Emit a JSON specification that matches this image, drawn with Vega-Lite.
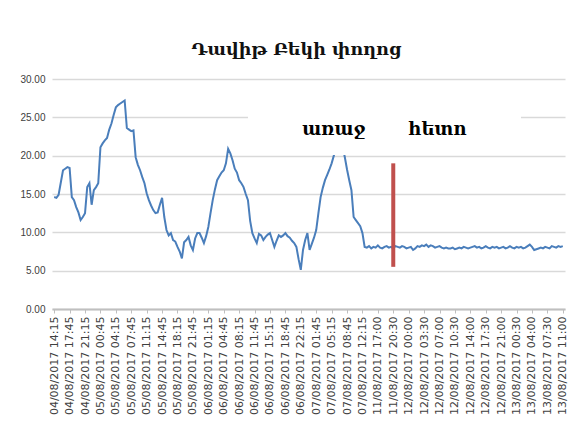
{
  "$schema": "https://vega.github.io/schema/vega-lite/v6.json",
  "width": 513,
  "height": 230,
  "autosize": {"type": "none"},
  "padding": {"left": 52, "top": 79, "right": 6, "bottom": 129},
  "background": "white",
  "config": {"view": {"stroke": null}},
  "title": {"text": "Դավիթ Բեկի փողոց", "font": "DejaVu Serif", "fontSize": 17.5, "fontWeight": 600, "color": "#111111", "baseline": "alphabetic", "offset": 2, "anchor": "middle", "dx": -12},
  "datasets": {
    "series": [
      {"t":"04/08/2017 14:15","v":14.6},{"t":"04/08/2017 14:45","v":14.5},{"t":"04/08/2017 15:15","v":14.9},{"t":"04/08/2017 15:45","v":16.5},{"t":"04/08/2017 16:15","v":18.1},{"t":"04/08/2017 16:45","v":18.3},{"t":"04/08/2017 17:15","v":18.5},{"t":"04/08/2017 17:45","v":18.4},{"t":"04/08/2017 18:15","v":14.6},{"t":"04/08/2017 18:45","v":14.2},{"t":"04/08/2017 19:15","v":13.3},{"t":"04/08/2017 19:45","v":12.6},{"t":"04/08/2017 20:15","v":11.6},{"t":"04/08/2017 20:45","v":12.0},{"t":"04/08/2017 21:15","v":12.5},{"t":"04/08/2017 21:45","v":15.9},{"t":"04/08/2017 22:15","v":16.4},{"t":"04/08/2017 22:45","v":13.6},{"t":"04/08/2017 23:15","v":15.5},{"t":"04/08/2017 23:45","v":15.9},
      {"t":"05/08/2017 00:15","v":16.4},{"t":"05/08/2017 00:45","v":21.1},{"t":"05/08/2017 01:15","v":21.6},{"t":"05/08/2017 01:45","v":22.0},{"t":"05/08/2017 02:15","v":22.3},{"t":"05/08/2017 02:45","v":23.4},{"t":"05/08/2017 03:15","v":24.2},{"t":"05/08/2017 03:45","v":25.3},{"t":"05/08/2017 04:15","v":26.3},{"t":"05/08/2017 04:45","v":26.6},{"t":"05/08/2017 05:15","v":26.8},{"t":"05/08/2017 05:45","v":27.0},{"t":"05/08/2017 06:15","v":27.2},{"t":"05/08/2017 06:45","v":23.6},{"t":"05/08/2017 07:15","v":23.4},{"t":"05/08/2017 07:45","v":23.2},{"t":"05/08/2017 08:15","v":23.3},{"t":"05/08/2017 08:45","v":19.8},{"t":"05/08/2017 09:15","v":18.8},{"t":"05/08/2017 09:45","v":18.1},{"t":"05/08/2017 10:15","v":17.2},{"t":"05/08/2017 10:45","v":16.4},{"t":"05/08/2017 11:15","v":15.1},{"t":"05/08/2017 11:45","v":14.2},{"t":"05/08/2017 12:15","v":13.5},{"t":"05/08/2017 12:45","v":12.9},{"t":"05/08/2017 13:15","v":12.5},{"t":"05/08/2017 13:45","v":12.6},{"t":"05/08/2017 14:15","v":13.6},{"t":"05/08/2017 14:45","v":14.5},{"t":"05/08/2017 15:15","v":12.0},{"t":"05/08/2017 15:45","v":10.3},{"t":"05/08/2017 16:15","v":9.6},{"t":"05/08/2017 16:45","v":9.9},{"t":"05/08/2017 17:15","v":9.0},{"t":"05/08/2017 17:45","v":8.8},{"t":"05/08/2017 18:15","v":8.1},{"t":"05/08/2017 18:45","v":7.5},{"t":"05/08/2017 19:15","v":6.6},{"t":"05/08/2017 19:45","v":8.7},{"t":"05/08/2017 20:15","v":9.0},{"t":"05/08/2017 20:45","v":9.4},{"t":"05/08/2017 21:15","v":8.3},{"t":"05/08/2017 21:45","v":7.7},{"t":"05/08/2017 22:15","v":9.2},{"t":"05/08/2017 22:45","v":9.9},{"t":"05/08/2017 23:15","v":9.9},{"t":"05/08/2017 23:45","v":9.3},
      {"t":"06/08/2017 00:15","v":8.6},{"t":"06/08/2017 00:45","v":9.5},{"t":"06/08/2017 01:15","v":10.7},{"t":"06/08/2017 01:45","v":12.5},{"t":"06/08/2017 02:15","v":14.2},{"t":"06/08/2017 02:45","v":15.6},{"t":"06/08/2017 03:15","v":16.8},{"t":"06/08/2017 03:45","v":17.3},{"t":"06/08/2017 04:15","v":17.8},{"t":"06/08/2017 04:45","v":18.1},{"t":"06/08/2017 05:15","v":19.0},{"t":"06/08/2017 05:45","v":20.9},{"t":"06/08/2017 06:15","v":20.3},{"t":"06/08/2017 06:45","v":19.4},{"t":"06/08/2017 07:15","v":18.3},{"t":"06/08/2017 07:45","v":17.8},{"t":"06/08/2017 08:15","v":16.8},{"t":"06/08/2017 08:45","v":16.4},{"t":"06/08/2017 09:15","v":15.9},{"t":"06/08/2017 09:45","v":15.0},{"t":"06/08/2017 10:15","v":14.2},{"t":"06/08/2017 10:45","v":11.5},{"t":"06/08/2017 11:15","v":9.9},{"t":"06/08/2017 11:45","v":9.2},{"t":"06/08/2017 12:15","v":8.6},{"t":"06/08/2017 12:45","v":9.8},{"t":"06/08/2017 13:15","v":9.6},{"t":"06/08/2017 13:45","v":9.0},{"t":"06/08/2017 14:15","v":9.4},{"t":"06/08/2017 14:45","v":9.7},{"t":"06/08/2017 15:15","v":9.9},{"t":"06/08/2017 15:45","v":9.0},{"t":"06/08/2017 16:15","v":8.1},{"t":"06/08/2017 16:45","v":8.9},{"t":"06/08/2017 17:15","v":9.6},{"t":"06/08/2017 17:45","v":9.4},{"t":"06/08/2017 18:15","v":9.6},{"t":"06/08/2017 18:45","v":9.9},{"t":"06/08/2017 19:15","v":9.5},{"t":"06/08/2017 19:45","v":9.3},{"t":"06/08/2017 20:15","v":8.9},{"t":"06/08/2017 20:45","v":8.6},{"t":"06/08/2017 21:15","v":8.1},{"t":"06/08/2017 21:45","v":6.5},{"t":"06/08/2017 22:15","v":5.1},{"t":"06/08/2017 22:45","v":7.7},{"t":"06/08/2017 23:15","v":9.0},{"t":"06/08/2017 23:45","v":9.9},
      {"t":"07/08/2017 00:15","v":7.7},{"t":"07/08/2017 00:45","v":8.5},{"t":"07/08/2017 01:15","v":9.3},{"t":"07/08/2017 01:45","v":10.3},{"t":"07/08/2017 02:15","v":12.5},{"t":"07/08/2017 02:45","v":14.6},{"t":"07/08/2017 03:15","v":15.8},{"t":"07/08/2017 03:45","v":16.8},{"t":"07/08/2017 04:15","v":17.5},{"t":"07/08/2017 04:45","v":18.2},{"t":"07/08/2017 05:15","v":19.0},{"t":"07/08/2017 05:45","v":20.0},{"t":"07/08/2017 06:15","v":20.7},{"t":"07/08/2017 06:45","v":21.5},{"t":"07/08/2017 07:15","v":22.0},{"t":"07/08/2017 07:45","v":21.2},{"t":"07/08/2017 08:15","v":19.8},{"t":"07/08/2017 08:45","v":18.2},{"t":"07/08/2017 09:15","v":16.8},{"t":"07/08/2017 09:45","v":15.5},{"t":"07/08/2017 10:15","v":12.0},{"t":"07/08/2017 10:45","v":11.6},{"t":"07/08/2017 11:15","v":11.2},{"t":"07/08/2017 11:45","v":10.8},{"t":"07/08/2017 12:15","v":9.9},
      {"t":"11/08/2017 14:00","v":8.1},{"t":"11/08/2017 14:30","v":8.0},{"t":"11/08/2017 15:00","v":8.2},{"t":"11/08/2017 15:30","v":7.9},{"t":"11/08/2017 16:00","v":8.1},{"t":"11/08/2017 16:30","v":8.0},{"t":"11/08/2017 17:00","v":8.3},{"t":"11/08/2017 17:30","v":8.0},{"t":"11/08/2017 18:00","v":7.9},{"t":"11/08/2017 18:30","v":8.1},{"t":"11/08/2017 19:00","v":8.2},{"t":"11/08/2017 19:30","v":8.0},{"t":"11/08/2017 20:00","v":8.1},{"t":"11/08/2017 20:30","v":7.9},{"t":"11/08/2017 21:00","v":8.2},{"t":"11/08/2017 21:30","v":8.1},{"t":"11/08/2017 22:00","v":8.0},{"t":"11/08/2017 22:30","v":8.2},{"t":"11/08/2017 23:00","v":8.1},{"t":"11/08/2017 23:30","v":7.9},
      {"t":"12/08/2017 00:00","v":8.0},{"t":"12/08/2017 00:30","v":8.1},{"t":"12/08/2017 01:00","v":7.7},{"t":"12/08/2017 01:30","v":7.9},{"t":"12/08/2017 02:00","v":8.2},{"t":"12/08/2017 02:30","v":8.1},{"t":"12/08/2017 03:00","v":8.3},{"t":"12/08/2017 03:30","v":8.2},{"t":"12/08/2017 04:00","v":8.4},{"t":"12/08/2017 04:30","v":8.1},{"t":"12/08/2017 05:00","v":8.3},{"t":"12/08/2017 05:30","v":8.2},{"t":"12/08/2017 06:00","v":8.0},{"t":"12/08/2017 06:30","v":8.1},{"t":"12/08/2017 07:00","v":8.2},{"t":"12/08/2017 07:30","v":8.0},{"t":"12/08/2017 08:00","v":7.9},{"t":"12/08/2017 08:30","v":8.0},{"t":"12/08/2017 09:00","v":7.9},{"t":"12/08/2017 09:30","v":7.9},{"t":"12/08/2017 10:00","v":8.0},{"t":"12/08/2017 10:30","v":7.8},{"t":"12/08/2017 11:00","v":7.9},{"t":"12/08/2017 11:30","v":8.0},{"t":"12/08/2017 12:00","v":7.9},{"t":"12/08/2017 12:30","v":8.1},{"t":"12/08/2017 13:00","v":8.0},{"t":"12/08/2017 13:30","v":7.9},{"t":"12/08/2017 14:00","v":8.0},{"t":"12/08/2017 14:30","v":8.1},{"t":"12/08/2017 15:00","v":8.2},{"t":"12/08/2017 15:30","v":8.0},{"t":"12/08/2017 16:00","v":8.1},{"t":"12/08/2017 16:30","v":7.9},{"t":"12/08/2017 17:00","v":8.0},{"t":"12/08/2017 17:30","v":8.2},{"t":"12/08/2017 18:00","v":8.0},{"t":"12/08/2017 18:30","v":7.9},{"t":"12/08/2017 19:00","v":8.1},{"t":"12/08/2017 19:30","v":8.0},{"t":"12/08/2017 20:00","v":8.1},{"t":"12/08/2017 20:30","v":7.9},{"t":"12/08/2017 21:00","v":8.0},{"t":"12/08/2017 21:30","v":8.1},{"t":"12/08/2017 22:00","v":7.9},{"t":"12/08/2017 22:30","v":8.0},{"t":"12/08/2017 23:00","v":8.2},{"t":"12/08/2017 23:30","v":8.0},
      {"t":"13/08/2017 00:00","v":7.9},{"t":"13/08/2017 00:30","v":8.1},{"t":"13/08/2017 01:00","v":8.0},{"t":"13/08/2017 01:30","v":8.1},{"t":"13/08/2017 02:00","v":7.9},{"t":"13/08/2017 02:30","v":8.0},{"t":"13/08/2017 03:00","v":8.2},{"t":"13/08/2017 03:30","v":8.4},{"t":"13/08/2017 04:00","v":8.1},{"t":"13/08/2017 04:30","v":7.7},{"t":"13/08/2017 05:00","v":7.8},{"t":"13/08/2017 05:30","v":7.9},{"t":"13/08/2017 06:00","v":8.0},{"t":"13/08/2017 06:30","v":7.9},{"t":"13/08/2017 07:00","v":8.1},{"t":"13/08/2017 07:30","v":8.0},{"t":"13/08/2017 08:00","v":7.9},{"t":"13/08/2017 08:30","v":8.2},{"t":"13/08/2017 09:00","v":8.1},{"t":"13/08/2017 09:30","v":8.0},{"t":"13/08/2017 10:00","v":8.2},{"t":"13/08/2017 10:30","v":8.1},{"t":"13/08/2017 11:00","v":8.2}
    ],
    "box": [{"t":"06/08/2017 10:15","t2":"13/08/2017 01:30","v":20.1,"v2":28.5}],
    "notes": [{"t":"07/08/2017 05:45","v":23.3,"label":"առաջ"},{"t":"12/08/2017 06:30","v":23.3,"label":"հետո"}],
    "marker": [{"t":"11/08/2017 20:30","v":5.5,"v2":19.0}]
  },
  "encoding": {
    "x": {"field": "t", "type": "ordinal", "sort": null,
      "scale": {"type": "point", "padding": 1.8},
      "axis": {"title": null, "labelAngle": -90, "labelFont": "DejaVu Sans", "labelFontSize": 11, "labelColor": "#404040", "labelPadding": 3,
        "domainColor": "#bfbfbf", "domainWidth": 2, "ticks": true, "tickColor": "#bfbfbf", "tickSize": 4, "grid": false,
        "values": ["04/08/2017 14:15","04/08/2017 17:45","04/08/2017 21:15","05/08/2017 00:45","05/08/2017 04:15","05/08/2017 07:45","05/08/2017 11:15","05/08/2017 14:45","05/08/2017 18:15","05/08/2017 21:45","06/08/2017 01:15","06/08/2017 04:45","06/08/2017 08:15","06/08/2017 11:45","06/08/2017 15:15","06/08/2017 18:45","06/08/2017 22:15","07/08/2017 01:45","07/08/2017 05:15","07/08/2017 08:45","07/08/2017 12:15","11/08/2017 17:00","11/08/2017 20:30","12/08/2017 00:00","12/08/2017 03:30","12/08/2017 07:00","12/08/2017 10:30","12/08/2017 14:00","12/08/2017 17:30","12/08/2017 21:00","13/08/2017 00:30","13/08/2017 04:00","13/08/2017 07:30","13/08/2017 11:00"]}},
    "y": {"field": "v", "type": "quantitative",
      "scale": {"domain": [0, 30], "nice": false},
      "axis": {"title": null, "values": [0,5,10,15,20,25,30], "format": ".2f", "grid": true, "gridColor": "#d9d9d9", "gridWidth": 1.5,
        "domain": false, "ticks": false, "labelFont": "Liberation Sans", "labelFontSize": 10, "labelColor": "#404040", "labelPadding": 7, "labelOverlap": false}}
  },
  "layer": [
    {
      "data": {"name": "series"},
      "mark": {"type": "line", "color": "#4a7ebb", "strokeWidth": 2}
    },
    {
      "data": {"name": "box"},
      "mark": {"type": "rect", "color": "white", "opacity": 1},
      "encoding": {
        "x2": {"field": "t2"},
        "y2": {"field": "v2"}
      }
    },
    {
      "data": {"name": "notes"},
      "mark": {"type": "text", "font": "DejaVu Serif", "fontSize": 18, "fontWeight": "bold", "color": "black", "align": "center", "baseline": "middle"},
      "encoding": {
        "text": {"field": "label"}
      }
    },
    {
      "data": {"name": "marker"},
      "mark": {"type": "rule", "color": "#c0504d", "strokeWidth": 4},
      "encoding": {
        "y2": {"field": "v2"}
      }
    }
  ]
}
